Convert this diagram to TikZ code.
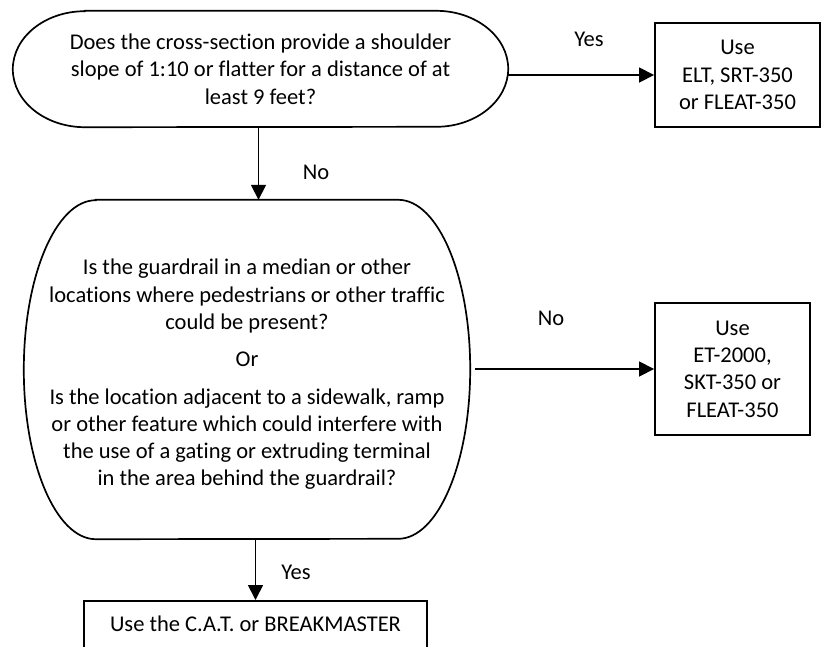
\documentclass[tikz,border=0pt]{standalone}
\usepackage{fontspec}
\setmainfont{Carlito}[Ligatures=CommonOff]
\usetikzlibrary{arrows.meta}

\tikzset{
  txt/.style={font=\fontsize{22.5}{27.3}\selectfont, align=center, inner sep=0pt, text=black},
  outline/.style={draw=black, line width=1.7pt},
  boxnode/.style={txt, draw=black, line width=1.9pt},
  arr/.style={draw=black, line width=1.7pt, -{Triangle[length=15pt,width=15pt]}},
}

\begin{document}
\begin{tikzpicture}[x=1pt, y=1pt]
  \useasboundingbox (0,0) rectangle (822,-646);
  \clip (0,0) rectangle (822,-646);

  % first question: terminator-style outline
  \node[txt, minimum width=495pt, minimum height=116pt] (q1) at (260.5,-69)
    {Does the cross-section provide a shoulder\\
     slope of 1:10 or flatter for a distance of at\\
     least 9 feet?};
  \draw[outline] ([xshift=72pt]q1.north west) -- ([xshift=-72pt]q1.north east)
    arc[start angle=90, end angle=-90, x radius=72pt, y radius=58pt]
    -- ([xshift=72pt]q1.south west)
    arc[start angle=270, end angle=90, x radius=72pt, y radius=58pt] -- cycle;

  % second question: tall terminator-style outline
  \node[minimum width=446pt, minimum height=339pt, inner sep=0pt] (q2) at (247,-369.5) {};
  \draw[outline] ([xshift=72pt]q2.north west) -- ([xshift=-72pt]q2.north east)
    arc[start angle=90, end angle=-90, x radius=72pt, y radius=169.5pt]
    -- ([xshift=72pt]q2.south west)
    arc[start angle=270, end angle=90, x radius=72pt, y radius=169.5pt] -- cycle;
  \node[txt] (q2text) at ([yshift=-5pt]q2.center)
    {Is the guardrail in a median or other\\
     locations where pedestrians or other traffic\\
     could be present?\\[10pt]
     Or\\[10pt]
     Is the location adjacent to a sidewalk, ramp\\
     or other feature which could interfere with\\
     the use of a gating or extruding terminal\\
     in the area behind the guardrail?};

  % outcome boxes
  \node[boxnode, minimum width=165pt, minimum height=104pt] (r1) at (737.5,-75)
    {Use\\ ELT, SRT-350\\ or FLEAT-350};
  \node[boxnode, minimum width=155pt, minimum height=132pt] (r2) at (732.5,-369)
    {Use\\ ET-2000,\\ SKT-350 or\\ FLEAT-350};
  \node[boxnode, minimum width=343pt, minimum height=90pt, anchor=north] (r3) at (255.5,-600) {};
  \node[txt] (r3text) at ([yshift=-24pt]r3.north) {Use the C.A.T. or BREAKMASTER};

  % connectors
  \draw[arr] (r1.west -| q1.east) -- (r1.west);
  \draw[arr] ([xshift=-2pt]q1.south) -- ([xshift=-2pt]q1.south |- q2.north);
  \draw[arr] ([xshift=5pt]r2.west -| q2.east) -- (r2.west);
  \draw[arr] (r3.north |- q2.south) -- (r3.north);

  % branch labels
  \node[txt] (lyes1) at (589,-39) {Yes};
  \node[txt] (lno1)  at (316,-172) {No};
  \node[txt] (lno2)  at (551,-318) {No};
  \node[txt] (lyes2) at (296,-572) {Yes};
\end{tikzpicture}
\end{document}
